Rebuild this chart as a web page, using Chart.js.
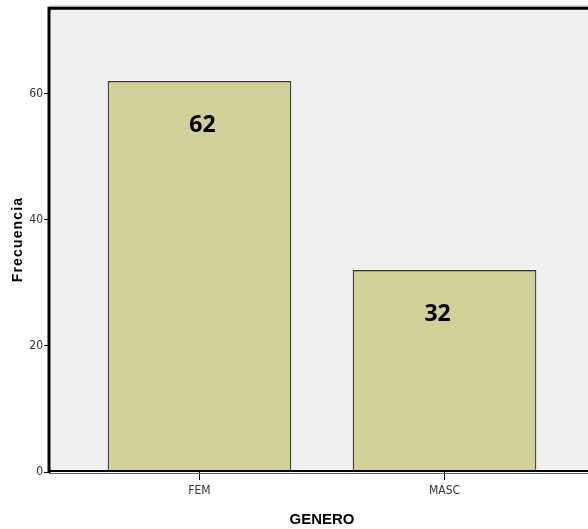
<!DOCTYPE html>
<html><head><meta charset="utf-8">
<script src="https://cdn.jsdelivr.net/npm/chart.js@4/dist/chart.umd.min.js"></script>
<style>html,body{margin:0;padding:0;background:#fff;overflow:hidden;width:588px;height:529px}#wrap{position:absolute;left:0;top:0;width:640px;height:529px}</style>
</head><body><div id="wrap"><canvas id="c" width="640" height="529"></canvas></div>
<script>
const categories = ["FEM", "MASC"];
const frecuencias = [62, 32];
const yTicks = [0, 20, 40, 60];
const xTitle = "GENERO";
const yTitle = "Frecuencia";

const narrow = "'Liberation Sans Narrow','Arial Narrow','DejaVu Sans Condensed','Liberation Sans',sans-serif";

const framePlugin = {
  id: 'frame',
  beforeDatasetsDraw(chart) {
    const {ctx, chartArea: a} = chart;
    ctx.save();
    ctx.fillStyle = '#f0f0f0';
    ctx.fillRect(a.left, a.top, a.right - a.left, a.bottom - a.top);
    ctx.restore();
  },
  afterDatasetsDraw(chart) {
    const {ctx, chartArea: a} = chart;
    const y0 = chart.scales.y.getPixelForValue(0);
    ctx.save();
    ctx.strokeStyle = '#000';
    ctx.lineWidth = 3;
    ctx.beginPath();
    ctx.moveTo(a.left, a.bottom + 1);
    ctx.lineTo(a.left, a.top);
    ctx.lineTo(a.right + 10, a.top);
    ctx.stroke();
    ctx.strokeStyle = '#999';
    ctx.lineWidth = 1;
    ctx.beginPath();
    ctx.moveTo(a.left, a.top - 2);
    ctx.lineTo(a.right + 10, a.top - 2);
    ctx.stroke();
    ctx.strokeStyle = '#000';
    ctx.lineWidth = 2;
    ctx.beginPath();
    ctx.moveTo(a.left, y0 - 1);
    ctx.lineTo(a.right + 10, y0 - 1);
    ctx.stroke();
    ctx.strokeStyle = '#666';
    ctx.lineWidth = 1;
    ctx.beginPath();
    ctx.moveTo(a.left, y0 + 1.5);
    ctx.lineTo(a.right + 10, y0 + 1.5);
    ctx.stroke();
    const meta = chart.getDatasetMeta(0);
    ctx.fillStyle = '#000';
    ctx.font = "bold 23px 'Open Sans','Liberation Sans',sans-serif";
    ctx.textAlign = 'center';
    ctx.textBaseline = 'middle';
    meta.data.forEach((bar, i) => {
      ctx.fillText(String(frecuencias[i]), bar.x + (i === 0 ? 3 : -7), bar.y + 44);
    });
    ctx.restore();
  }
};

new Chart(document.getElementById('c'), {
  type: 'bar',
  data: {
    datasets: [{
      data: categories.map((c, i) => ({x: i, y: frecuencias[i]})),
      backgroundColor: '#d3cf99',
      borderColor: '#333333',
      borderWidth: 1.2,
      barThickness: 183
    }]
  },
  options: {
    responsive: false,
    animation: false,
    layout: {padding: {top: 6, right: 45, left: 0, bottom: 0}},
    plugins: {legend: {display: false}, tooltip: {enabled: false}},
    scales: {
      x: {
        type: 'linear',
        offset: false,
        min: -0.614, max: 1.614,
        afterBuildTicks: s => { s.ticks = categories.map((c, i) => ({value: i})); },
        afterFit: s => { s.height = 57; },
        ticks: {
          callback: v => categories[v],
          color: '#333', font: {family: narrow, size: 12}, padding: 4, maxRotation: 0
        },
        grid: {drawOnChartArea: false, drawTicks: true, tickLength: 8, color: '#000', offset: false},
        border: {display: false},
        title: {display: true, text: xTitle, color: '#000', font: {family: "'Liberation Sans',Arial,sans-serif", size: 15, weight: 'bold'}, padding: {top: 4, bottom: 0}}
      },
      y: {
        min: 0, max: 73.6,
        afterBuildTicks: s => { s.ticks = yTicks.map(v => ({value: v})); },
        afterFit: s => { s.width = 49; },
        ticks: {color: '#333', font: {family: narrow, size: 12}, padding: 1},
        grid: {drawOnChartArea: false, drawTicks: true, tickLength: 5, color: '#000'},
        border: {display: false},
        title: {display: true, text: yTitle.split('').join('\u200A'), color: '#000', font: {family: "'Liberation Sans',Arial,sans-serif", size: 14, weight: 'bold'}, padding: {top: 10, bottom: 0}}
      }
    }
  },
  plugins: [framePlugin]
});
</script></body></html>
